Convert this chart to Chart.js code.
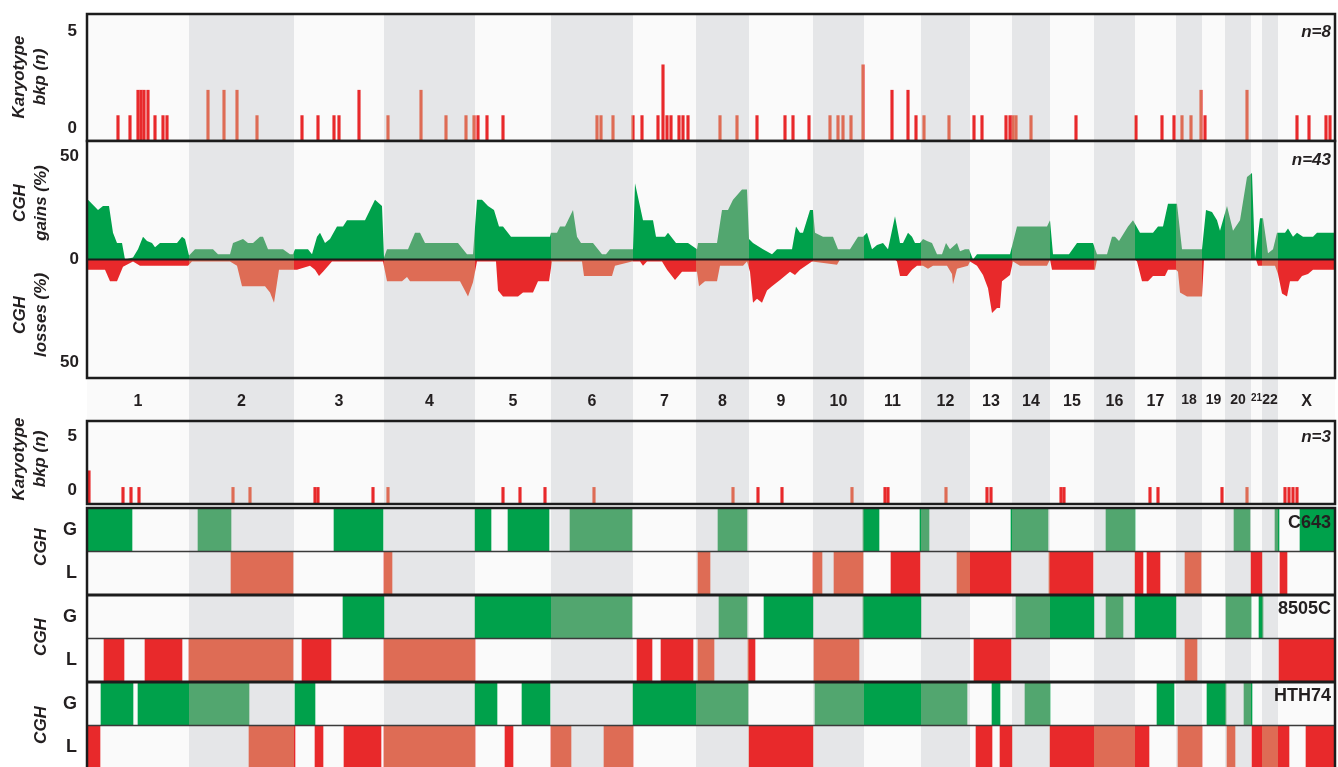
<!DOCTYPE html>
<html lang="en">
<head>
<meta charset="UTF-8">
<title>Karyotype breakpoints and CGH profiles</title>
<script src="https://cdn.jsdelivr.net/npm/chart.js"></script>
<style>
    body {
        margin: 0;
        background: #fff;
        overflow: hidden;
        font-family: 'Liberation Sans', Arial, sans-serif;
    }
    #page {
        position: relative;
        width: 1338px;
        height: 767px;
        overflow: hidden;
    }
    .panel {
        position: absolute;
        left: 0;
        width: 1338px;
    }
    .ytitle {
        position: absolute;
        transform: translate(-50%, -50%) rotate(-90deg);
        white-space: nowrap;
        text-align: center;
        font-weight: bold;
        font-style: italic;
        font-size: 17px;
        line-height: 21px;
        color: #231f20;
    }
    .tag {
        position: absolute;
        right: 7px;
        line-height: 20px;
        font-weight: bold;
        font-style: italic;
        font-size: 17px;
        color: #231f20;
    }
    .cell {
        position: absolute;
        right: 7px;
        line-height: 20px;
        font-weight: bold;
        font-size: 18px;
        color: #231f20;
    }
</style>
</head>
<body>
<div id="page">
    <div class="panel" style="top:10px;height:135px"><canvas id="bkpTop"></canvas></div>
    <div class="panel" style="top:137px;height:283px"><canvas id="cghProfile"></canvas></div>
    <div class="panel" style="top:417px;height:91px"><canvas id="bkpLines"></canvas></div>
    <div class="panel" style="top:504px;height:267px"><canvas id="cghLines"></canvas></div>

    <div class="ytitle" style="left:29px;top:77px">Karyotype<br>bkp (n)</div>
    <div class="ytitle" style="left:30px;top:203px">CGH<br>gains (%)</div>
    <div class="ytitle" style="left:30px;top:315px">CGH<br>losses (%)</div>
    <div class="ytitle" style="left:29px;top:459px">Karyotype<br>bkp (n)</div>
    <div class="ytitle" style="left:40px;top:547px">CGH</div>
    <div class="ytitle" style="left:40px;top:637px">CGH</div>
    <div class="ytitle" style="left:40px;top:725px">CGH</div>

    <div class="tag" style="top:22px">n=8</div>
    <div class="tag" style="top:150px">n=43</div>
    <div class="tag" style="top:427px">n=3</div>
    <div class="cell" style="top:512px">C643</div>
    <div class="cell" style="top:598px">8505C</div>
    <div class="cell" style="top:685px">HTH74</div>
</div>

<script>
    // genome coordinate (arbitrary units) along the x axis
    const chromNames = ['1','2','3','4','5','6','7','8','9','10','11','12','13','14','15','16','17','18','19','20','21','22','X'];
    const chromStart = [87,189,294,384,475,551,633,696,749,813,864,921,970,1012,1050,1094,1135,1176,1202,1225,1251,1262,1278];
    const genomeEnd = 1335;

    // karyotype breakpoints, primary tumours (n=8)
    const topBkpPos = [118,130,138,141,144,148,155,163,167,208,224,237,257,302,318,334,339,359,388,421,446,
        466,474,478,487,503,597,601,613,633,642,658,663,667,671,679,683,688,720,737,757,785,793,809,
        830,838,843,851,863,892,908,916,924,949,974,982,1006,1010,1013,1016,1031,1076,1136,1162,1174,
        1182,1191,1201,1205,1247,1297,1309,1326,1330];
    const topBkpN = [1,1,2,2,2,2,1,1,1,2,2,2,1,1,1,1,1,2,1,2,1,
        1,1,1,1,1,1,1,1,1,1,1,3,1,1,1,1,1,1,1,1,1,1,1,
        1,1,1,1,3,2,2,1,1,1,1,1,1,1,1,1,1,1,1,1,1,
        1,1,2,1,2,1,1,1,1];

    // CGH frequency profile (n=43)
    const gainPos = [88,98,103,109,113,117,122,125,133,138,143,147,152,155,160,177,182,185,189,195,213,218,230,233,
        243,248,253,260,263,268,283,290,293,295,308,312,317,320,325,330,337,343,347,365,375,382,384,387,408,
        415,420,425,458,467,473,477,482,488,494,499,503,511,550,551,557,560,565,573,577,581,593,602,606,610,
        633,635,643,653,656,665,668,676,688,697,698,717,722,728,733,742,747,749,753,763,772,777,792,796,800,
        803,810,813,815,823,833,838,850,858,863,867,872,877,883,888,895,900,903,908,912,915,920,923,927,932,
        937,942,946,950,957,960,965,969,973,977,1010,1017,1047,1050,1053,1069,1077,1093,1097,1107,1112,1115,
        1119,1128,1133,1140,1153,1158,1163,1168,1177,1182,1202,1206,1212,1217,1220,1227,1233,1240,1247,1252,
        1255,1260,1263,1268,1273,1277,1285,1288,1293,1297,1303,1313,1317,1335];
    const gainPct = [29,24,26,26,13,8,8,0,1,5,11,9,8,6,8,8,11,10,2,5,5,2.5,2.5,8,
        10,8,8,11,11,5,5,2.5,2.5,5,5,2.5,11,13,8,10,16,16,19,19,29,26,1,5,5,
        13,13,8,8,2.5,2.5,29,29,26,24,16,16,11,11,13,13,16,16,24,11,8,8,2.5,2.5,5,
        5,37,19,19,11,11,13,8,8,5,8,8,24,24,29,34,34,10,8,5,2.5,5,5,16,13,
        13,24,24,13,11,11,5,5,11,11,13,5,7,8,5,21,8,8,13,11,8,8,10,9,8,
        2.5,2.5,8,5,8,4,5,5,0,2.5,2.5,16,16,19,2.5,2.5,8,8,2.5,2.5,11,11,
        9,16,19,13,13,16,16,27,27,5,5,24,23,19,14,26,14,19,40,42,
        0.5,20,20,3,5,13,13,15,11,13,11,11,13,13];
    const lossPos = [88,105,110,117,123,133,140,188,192,230,237,242,265,270,274,279,293,297,310,315,319,323,332,383,
        387,402,407,410,460,468,473,477,496,498,503,518,523,533,538,549,552,582,584,612,615,632,640,643,647,
        662,667,675,682,697,699,705,717,720,743,747,750,753,757,762,767,772,780,790,795,800,812,837,840,895,
        897,900,907,912,917,923,928,933,947,952,953,957,968,970,977,983,988,992,997,1000,1002,1010,1013,1020,
        1047,1050,1052,1095,1097,1135,1137,1142,1148,1153,1165,1168,1176,1178,1180,1187,1202,1204,1256,1258,
        1275,1278,1282,1287,1290,1298,1302,1308,1313,1335];
    const lossPct = [-5,-5,-10.5,-10.5,-3.5,-1,-3,-3,-1,-1,-3,-13,-13,-16,-21,-5,-5,-5,-3,-5,-8,-6,-1,-1,
        -10.5,-10.5,-8.5,-10.5,-10.5,-18,-11,-1,-1,-15,-18,-18,-16,-16,-10.5,-10.5,-1,-1,-8,-8,-3,-1,-1,-3,-1,
        -1,-5,-10,-6,-6,-13,-10.5,-10.5,-3,-3,-1,-6,-21,-19,-21,-15,-13,-10,-6,-7.5,-5,-1,-2.5,0,0,
        -1,-8,-8,-5,-3,-3,-4.5,-3,-3,-7,-12,-4.5,-3,-1,-3,-7.5,-14,-26,-23.5,-23.5,-10.5,-7.5,-1,-3,
        -3,0,-5,-5,0,0,-1,-10.5,-10.5,-8,-8,-5,-5,-6,-16,-18,-18,0,0,-3,
        -3,-7,-16.5,-18,-10.5,-10.5,-8,-7,-5,-5];

    // karyotype breakpoints, cell lines (n=3)
    const lowBkpPos = [89,123,131,139,233,250,315,318,373,388,503,520,545,594,733,758,782,852,885,888,946,987,991,
        1061,1064,1150,1158,1222,1247,1285,1289,1293,1297];
    const lowBkpN = [2,1,1,1,1,1,1,1,1,1,1,1,1,1,1,1,1,1,1,1,1,1,1,
        1,1,1,1,1,1,1,1,1,1];

    // CGH gains (G) and losses (L) per cell line, [start, end]
    const rowLabels = ['C643 G','C643 L','8505C G','8505C L','HTH74 G','HTH74 L'];
    const c643Gain = [[88,132],[198,231],[334,383],[475,491],[508,549],[570,632],[718,747],[863,879],[920,929],
        [1011,1048],[1106,1135],[1234,1250],[1275,1279],[1300,1335]];
    const c643Loss = [[231,293],[384,392],[698,710],[813,822],[834,863],[891,920],[957,1011],[1049,1093],
        [1135,1143],[1147,1160],[1185,1201],[1251,1262],[1280,1287]];
    const b8505Gain = [[343,384],[475,632],[719,747],[764,813],[863,921],[1016,1094],[1106,1123],[1135,1176],
        [1226,1251],[1259,1263]];
    const b8505Loss = [[104,124],[145,182],[189,293],[302,331],[384,475],[637,652],[661,693],[698,714],[748,755],
        [814,859],[974,1011],[1185,1197],[1279,1335]];
    const hth74Gain = [[101,133],[138,249],[295,315],[475,497],[522,550],[633,748],[815,967],[992,1000],
        [1025,1050],[1157,1174],[1207,1226],[1244,1252]];
    const hth74Loss = [[88,100],[249,295],[315,323],[344,381],[384,475],[505,513],[551,571],[604,633],[749,813],
        [976,992],[1000,1012],[1050,1149],[1178,1202],[1227,1235],[1252,1289],[1306,1335]];

    const GREEN = '#00a14b', GREEN_MUTED = '#52a66f';
    const RED = '#e8292b', RED_MUTED = '#de6c55';
    const BAND_LIGHT = '#fafafa', BAND_GREY = '#e5e6e8';
    const INK = '#231f20';

    Chart.defaults.font.family = "'Liberation Sans', Arial, sans-serif";
    Chart.defaults.color = INK;

    function chromEnd(i) {
        return i + 1 < chromStart.length ? chromStart[i + 1] : genomeEnd;
    }

    function chromLabelSize(name) {
        if (name === '21') return 10;
        if (['18', '19', '20', '22'].includes(name)) return 14;
        return 16;
    }

    // no extra room for edge labels: the frames must line up exactly
    function noEdgePadding(ax) {
        ax.paddingTop = 0;
        ax.paddingBottom = 0;
        ax.paddingLeft = 0;
        ax.paddingRight = 0;
    }

    // colour is muted inside the grey (even-numbered) chromosome bands
    function bandFill(chart, bright, muted) {
        const x = chart.scales.x;
        if (!chart.chartArea || !x || !(x.right > x.left)) return bright;
        const g = chart.ctx.createLinearGradient(x.left, 0, x.right, 0);
        const w = x.right - x.left;
        const clamp = v => Math.min(1, Math.max(0, v));
        chromStart.forEach((s, i) => {
            const c = i % 2 ? muted : bright;
            g.addColorStop(clamp((x.getPixelForValue(s) - x.left) / w), c);
            g.addColorStop(clamp((x.getPixelForValue(chromEnd(i)) - x.left) / w), c);
        });
        return g;
    }

    const bandsPlugin = {
        id: 'bands',
        beforeDraw(chart, args, opts) {
            const {ctx, chartArea: a, scales: {x}} = chart;
            const bottom = opts.toCanvasBottom ? chart.height : a.bottom;
            ctx.save();
            chromStart.forEach((s, i) => {
                const l = x.getPixelForValue(s);
                const r = x.getPixelForValue(chromEnd(i));
                ctx.fillStyle = i % 2 ? BAND_GREY : BAND_LIGHT;
                ctx.fillRect(l, a.top, r - l, bottom - a.top);
            });
            ctx.restore();
        },
        afterDatasetsDraw(chart, args, opts) {
            const {ctx, chartArea: a, scales: {y}} = chart;
            ctx.save();
            ctx.strokeStyle = '#1c1c1c';
            if (opts.zeroLine) {
                const y0 = y.getPixelForValue(0);
                ctx.lineWidth = 2;
                ctx.beginPath();
                ctx.moveTo(a.left, y0);
                ctx.lineTo(a.right, y0);
                ctx.stroke();
            }
            if (opts.rowLines) {
                for (let i = 1; i < rowLabels.length; i++) {
                    const yy = (y.getPixelForValue(i - 1) + y.getPixelForValue(i)) / 2;
                    ctx.lineWidth = i % 2 ? 1.5 : 3;
                    ctx.strokeStyle = i % 2 ? '#3a3a3a' : '#1c1c1c';
                    ctx.beginPath();
                    ctx.moveTo(a.left, yy);
                    ctx.lineTo(a.right, yy);
                    ctx.stroke();
                }
            }
            ctx.restore();
        },
        afterDraw(chart) {
            const {ctx, chartArea: a} = chart;
            ctx.save();
            ctx.strokeStyle = '#1c1c1c';
            ctx.lineWidth = 2.5;
            ctx.strokeRect(a.left, a.top, a.right - a.left, a.bottom - a.top);
            ctx.restore();
        }
    };
    Chart.register(bandsPlugin);

    const xHidden = {type: 'linear', min: 87, max: genomeEnd, offset: false, display: false};

    function bkpAxis(tickPos, tickLabels) {
        return {
            min: 0,
            max: 5,
            grid: {display: false},
            border: {display: false},
            afterBuildTicks: ax => { ax.ticks = tickPos.map(v => ({value: v})); },
            afterFit: ax => { ax.width = 87; noEdgePadding(ax); },
            ticks: {
                padding: 2,
                font: {size: 17, weight: 'bold'},
                callback: (v, i) => tickLabels[i]
            }
        };
    }

    function bkpChart(id, pos, counts, tickPos) {
        return new Chart(document.getElementById(id), {
            type: 'bar',
            data: {
                datasets: [{
                    data: pos.map((p, i) => ({x: p, y: counts[i]})),
                    backgroundColor: c => bandFill(c.chart, RED, RED_MUTED),
                    barThickness: 2.5,
                    borderWidth: 0
                }]
            },
            options: {
                responsive: true,
                maintainAspectRatio: false,
                animation: false,
                layout: {padding: {top: 4, bottom: 4, left: 0, right: 3}},
                plugins: {legend: {display: false}, tooltip: {enabled: false}, bands: {}},
                scales: {x: xHidden, y: bkpAxis(tickPos, ['0', '5'])}
            }
        });
    }

    // tick labels sit slightly inside the frame, as in the figure
    bkpChart('bkpTop', topBkpPos, topBkpN, [0.5, 4.3]);

    new Chart(document.getElementById('cghProfile'), {
        type: 'line',
        data: {
            datasets: [{
                data: gainPos.map((p, i) => ({x: p, y: gainPct[i]})),
                fill: 'origin',
                backgroundColor: c => bandFill(c.chart, GREEN, GREEN_MUTED),
                borderWidth: 0,
                pointRadius: 0,
                tension: 0
            }, {
                data: lossPos.map((p, i) => ({x: p, y: lossPct[i]})),
                fill: 'origin',
                backgroundColor: c => bandFill(c.chart, RED, RED_MUTED),
                borderWidth: 0,
                pointRadius: 0,
                tension: 0
            }]
        },
        options: {
            responsive: true,
            maintainAspectRatio: false,
            animation: false,
            layout: {padding: {top: 4, bottom: 0, left: 0, right: 3}},
            plugins: {legend: {display: false}, tooltip: {enabled: false}, bands: {toCanvasBottom: true, zeroLine: true}},
            scales: {
                x: {
                    type: 'linear',
                    min: 87,
                    max: genomeEnd,
                    grid: {display: false},
                    border: {display: false},
                    afterBuildTicks: ax => {
                        ax.ticks = chromStart.map((s, i) => ({value: (s + chromEnd(i)) / 2}));
                    },
                    afterFit: ax => { ax.height = 42; noEdgePadding(ax); },
                    ticks: {
                        autoSkip: false,
                        maxRotation: 0,
                        padding: 6,
                        callback: (v, i) => chromNames[i],
                        font: c => ({size: chromLabelSize(chromNames[c.index]), weight: 'bold'})
                    }
                },
                y: {
                    min: -57.5,
                    max: 57.5,
                    grid: {display: false},
                    border: {display: false},
                    afterBuildTicks: ax => { ax.ticks = [-50, 0, 50].map(v => ({value: v})); },
                    afterFit: ax => { ax.width = 87; noEdgePadding(ax); },
                    ticks: {
                        padding: 0,
                        font: {size: 17, weight: 'bold'},
                        callback: v => String(Math.abs(v))
                    }
                }
            }
        }
    });

    bkpChart('bkpLines', lowBkpPos, lowBkpN, [0.8, 4.1]);

    const toRow = (segs, label) => segs.map(s => ({x: s, y: label}));

    new Chart(document.getElementById('cghLines'), {
        type: 'bar',
        data: {
            labels: rowLabels,
            datasets: [{
                data: [].concat(toRow(c643Gain, rowLabels[0]), toRow(b8505Gain, rowLabels[2]), toRow(hth74Gain, rowLabels[4])),
                backgroundColor: c => bandFill(c.chart, GREEN, GREEN_MUTED)
            }, {
                data: [].concat(toRow(c643Loss, rowLabels[1]), toRow(b8505Loss, rowLabels[3]), toRow(hth74Loss, rowLabels[5])),
                backgroundColor: c => bandFill(c.chart, RED, RED_MUTED)
            }]
        },
        options: {
            indexAxis: 'y',
            responsive: true,
            maintainAspectRatio: false,
            animation: false,
            grouped: false,
            barPercentage: 1,
            categoryPercentage: 1,
            borderWidth: 0,
            borderSkipped: false,
            layout: {padding: {top: 4, bottom: 2, left: 0, right: 3}},
            plugins: {legend: {display: false}, tooltip: {enabled: false}, bands: {rowLines: true}},
            scales: {
                x: xHidden,
                y: {
                    grid: {display: false},
                    border: {display: false},
                    afterFit: ax => { ax.width = 87; noEdgePadding(ax); },
                    ticks: {
                        padding: 2,
                        font: {size: 18, weight: 'bold'},
                        callback: (v, i) => rowLabels[i].slice(-1)
                    }
                }
            }
        }
    });
</script>
</body>
</html>
